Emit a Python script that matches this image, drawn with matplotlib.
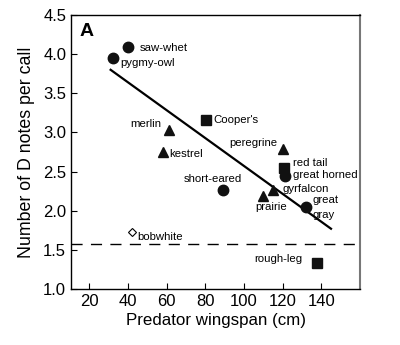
import matplotlib.pyplot as plt
import numpy as np

plt.rcParams['font.family'] = ['Liberation Sans', 'DejaVu Sans']

# species data: wingspan (cm), D notes per call
circle_names = ['saw-whet', 'pygmy-owl', 'great horned', 'short-eared', 'great gray']
circle_x = [40, 32, 121, 89, 132]
circle_y = [4.09, 3.95, 2.44, 2.26, 2.05]

tri_names = ['merlin', 'kestrel', 'peregrine', 'gyrfalcon', 'prairie']
tri_x = [61, 58, 120, 115, 110]
tri_y = [3.03, 2.75, 2.79, 2.26, 2.19]

sq_names = ["Cooper's", 'red tail', 'rough-leg']
sq_x = [80.5, 120.5, 138]
sq_y = [3.16, 2.55, 1.33]

bob_x = [42]
bob_y = [1.73]

fit_x = [31, 145]
fit_y = [3.80, 1.77]
dashed_y = 1.575

fig = plt.figure(figsize=(4, 3.45), dpi=100)
ax = fig.add_axes([0.1775, 0.1623, 0.7225, 0.7942])

ax.plot(fit_x, fit_y, color='black', lw=1.6, zorder=2)
ax.axhline(dashed_y, color='black', lw=1.0, dashes=(8, 6), zorder=1)

ax.plot(circle_x, circle_y, 'o', color='#111111', ms=7.5, zorder=3)
ax.plot(tri_x, tri_y, '^', color='#111111', ms=6.5, zorder=3)
ax.plot(sq_x, sq_y, 's', color='#111111', ms=7, zorder=3)
ax.plot(bob_x, bob_y, 'D', mfc='white', mec='black', mew=0.8, ms=4.5, zorder=3)

fs = 8.2
def lab(x, y, s, ha='left'):
    ax.text(x, y, s, fontsize=fs, ha=ha, va='center')

lab(46, 4.08, 'saw-whet')
lab(36, 3.89, 'pygmy-owl')
lab(84, 3.16, "Cooper's")
lab(57, 3.11, 'merlin', ha='right')
lab(61.5, 2.73, 'kestrel')
lab(117.5, 2.86, 'peregrine', ha='right')
lab(125.5, 2.61, 'red tail')
lab(125.5, 2.46, 'great horned')
lab(84, 2.41, 'short-eared', ha='center')
lab(120, 2.28, 'gyrfalcon')
lab(106, 2.05, 'prairie')
lab(135.5, 2.14, 'great')
lab(135.5, 1.95, 'gray')
lab(45, 1.67, 'bobwhite')
lab(130, 1.38, 'rough-leg', ha='right')

ax.text(0.03, 0.97, 'A', transform=ax.transAxes, fontsize=14, fontweight='bold',
        ha='left', va='top')

ax.set_xlim(10.5, 160)
ax.set_ylim(1.0, 4.5)
ax.set_xticks(np.arange(20, 141, 20))
ax.set_yticks(np.arange(1.0, 4.51, 0.5))
ax.set_yticklabels(['%.1f' % v for v in np.arange(1.0, 4.51, 0.5)])
ax.tick_params(direction='in', length=4, width=0.8, labelsize=12)
ax.set_xlabel('Predator wingspan (cm)', fontsize=12.2, labelpad=3)
ax.set_ylabel('Number of D notes per call', fontsize=12.8, labelpad=6)
for sp in ax.spines.values():
    sp.set_linewidth(1.0)
ax.spines['right'].set_color('#777777')
ax.spines['right'].set_linewidth(1.5)

fig.savefig('out.png', dpi=100)
